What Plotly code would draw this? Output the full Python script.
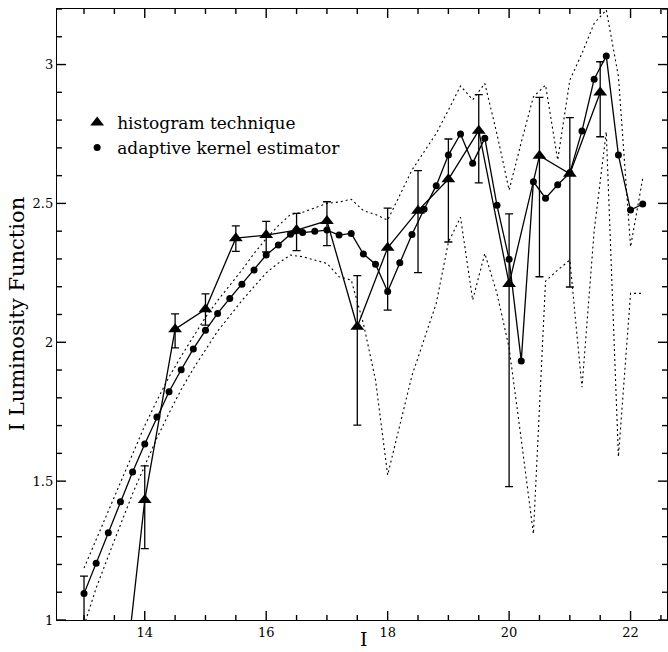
import plotly.graph_objects as go

# ---- data ----
# adaptive kernel estimator (circles)
kernel_x = [13.0, 13.2, 13.4, 13.6, 13.8, 14.0, 14.2, 14.4, 14.6, 14.8,
            15.0, 15.2, 15.4, 15.6, 15.8, 16.0, 16.2, 16.4, 16.6, 16.8,
            17.0, 17.2, 17.4, 17.6, 17.8, 18.0, 18.2, 18.4, 18.6, 18.8,
            19.0, 19.2, 19.4, 19.6, 19.8, 20.0, 20.2, 20.4, 20.6, 20.8,
            21.0, 21.2, 21.4, 21.6, 21.8, 22.0, 22.2]
kernel_y = [1.095, 1.204, 1.314, 1.426, 1.533, 1.634, 1.731, 1.822, 1.901, 1.976,
            2.043, 2.104, 2.158, 2.209, 2.260, 2.314, 2.350, 2.389, 2.395, 2.400,
            2.404, 2.386, 2.392, 2.318, 2.281, 2.183, 2.286, 2.388, 2.479, 2.564,
            2.674, 2.750, 2.645, 2.735, 2.493, 2.299, 1.933, 2.578, 2.519, 2.567,
            2.610, 2.761, 2.947, 3.031, 2.674, 2.476, 2.498]
# dotted confidence band (upper / lower)
band_upper = [1.187, 1.29, 1.395, 1.50, 1.60, 1.70, 1.79, 1.875, 1.95, 2.02,
              2.09, 2.15, 2.205, 2.26, 2.32, 2.373, 2.42, 2.46, 2.468, 2.485,
              2.50, 2.505, 2.515, 2.474, 2.46, 2.44, 2.53, 2.62, 2.686, 2.752,
              2.836, 2.923, 2.873, 2.932, 2.75, 2.548, 2.72, 2.884, 2.926, 2.656,
              2.944, 3.04, 3.148, 3.197, 2.957, 2.344, 2.59]
band_lower = [0.98, 1.115, 1.23, 1.345, 1.455, 1.555, 1.655, 1.745, 1.83, 1.905,
              1.972, 2.04, 2.095, 2.15, 2.20, 2.25, 2.285, 2.314, 2.308, 2.295,
              2.284, 2.236, 2.224, 2.068, 1.864, 1.522, 1.70, 1.88, 2.01, 2.14,
              2.36, 2.45, 2.152, 2.32, 2.176, 1.98, 1.65, 1.31, 2.22, 2.26,
              2.296, 1.838, 2.40, 2.758, 1.588, 2.176, 2.176]

# histogram technique (triangles) with error bars
hist_x = [13.0, 13.5, 14.0, 14.5, 15.0, 15.5, 16.0, 16.5, 17.0, 17.5,
          18.0, 18.5, 19.0, 19.5, 20.0, 20.5, 21.0, 21.5]
hist_y = [0.86, 0.45, 1.432, 2.047, 2.119, 2.375, 2.386, 2.404, 2.437, 2.056,
          2.340, 2.474, 2.587, 2.762, 2.210, 2.672, 2.607, 2.899]
hist_hi = [1.158, 0.75, 1.555, 2.102, 2.174, 2.419, 2.435, 2.464, 2.506, 2.240,
           2.483, 2.618, 2.732, 2.892, 2.462, 2.882, 2.809, 3.010]
hist_lo = [0.40, 0.20, 1.257, 1.980, 2.062, 2.327, 2.325, 2.330, 2.348, 1.702,
           2.116, 2.251, 2.361, 2.574, 1.480, 2.236, 2.199, 2.740]

x_range = [12.555, 22.6]
y_range = [1.0, 3.2]
x_ticks = [14, 16, 18, 20, 22]
y_ticks = [1, 1.5, 2, 2.5, 3]
y_ticklabels = ["1", "1.5", "2", "2.5", "3"]
x_minor_step = 0.5
y_minor_step = 0.1

FONT = "DejaVu Serif"
INK = "#000000"

W, H = 668, 652
M = dict(l=57, r=1, t=9, b=32)
plot_w = W - M["l"] - M["r"]
plot_h = H - M["t"] - M["b"]
# data units per pixel (axes have fixed ranges)
ux = (x_range[1] - x_range[0]) / plot_w
uy = (y_range[1] - y_range[0]) / plot_h

fig = go.Figure()

for band in (band_upper, band_lower):
    fig.add_trace(go.Scatter(
        x=kernel_x, y=band, mode="lines",
        line=dict(color=INK, width=1.1, dash="2px,3px"),
        showlegend=False, hoverinfo="skip"))

fig.add_trace(go.Scatter(
    x=kernel_x, y=kernel_y, mode="lines+markers",
    line=dict(color=INK, width=1.3),
    marker=dict(symbol="circle", size=7, color=INK),
    showlegend=False))

fig.add_trace(go.Scatter(
    x=hist_x, y=hist_y, mode="lines+markers",
    line=dict(color=INK, width=1.3),
    marker=dict(symbol="triangle-up", size=12, color=INK),
    error_y=dict(type="data", symmetric=False,
                 array=[h - v for h, v in zip(hist_hi, hist_y)],
                 arrayminus=[v - l for v, l in zip(hist_y, hist_lo)],
                 color=INK, thickness=1.3, width=4),
    showlegend=False))

# legend entries (markers only)
fig.add_trace(go.Scatter(
    x=[None], y=[None], mode="markers", name="histogram technique",
    marker=dict(symbol="triangle-up", size=12, color=INK)))
fig.add_trace(go.Scatter(
    x=[None], y=[None], mode="markers", name="adaptive kernel estimator",
    marker=dict(symbol="circle", size=7, color=INK)))

# tick marks on all four sides (inside), major + minor, drawn as one line trace
def tick_positions(lo, hi, step):
    out = []
    k = int(lo // step)
    while k * step <= hi + 1e-9:
        v = round(k * step, 6)
        if lo - 1e-9 <= v <= hi + 1e-9:
            out.append(v)
        k += 1
    return out

major_len, minor_len = 9, 5
tx, ty = [], []
for v in tick_positions(x_range[0], x_range[1], x_minor_step):
    L = (major_len if any(abs(v - t) < 1e-6 for t in x_ticks) else minor_len) * uy
    tx += [v, v, None, v, v, None]
    ty += [y_range[0], y_range[0] + L, None, y_range[1], y_range[1] - L, None]
for v in tick_positions(y_range[0], y_range[1], y_minor_step):
    L = (major_len if any(abs(v - t) < 1e-6 for t in y_ticks) else minor_len) * ux
    tx += [x_range[0], x_range[0] + L, None, x_range[1], x_range[1] - L, None]
    ty += [v, v, None, v, v, None]
fig.add_trace(go.Scatter(x=tx, y=ty, mode="lines", line=dict(color=INK, width=1.4),
                         showlegend=False, hoverinfo="skip", cliponaxis=False))

fig.update_layout(
    width=W, height=H,
    margin=M,
    plot_bgcolor="white", paper_bgcolor="white",
    font=dict(family=FONT, color=INK),
    legend=dict(x=0.033, y=0.843, xanchor="left", yanchor="top",
                bgcolor="rgba(0,0,0,0)", borderwidth=0,
                font=dict(family=FONT, size=17, color=INK),
                itemsizing="trace", tracegroupgap=0),
    annotations=[
        dict(text="I Luminosity Function", xref="paper", yref="paper",
             x=-0.066, y=0.5, xanchor="center", yanchor="middle",
             textangle=-90, showarrow=False,
             font=dict(family=FONT, size=21, color=INK)),
        dict(text="I", xref="paper", yref="paper",
             x=0.503, y=-0.0524, xanchor="center", yanchor="bottom",
             showarrow=False, font=dict(family=FONT, size=19, color=INK)),
    ],
)

fig.update_xaxes(
    range=x_range, tickvals=x_ticks,
    showline=True, linecolor=INK, linewidth=1.3, mirror=True,
    ticks="", showgrid=False, zeroline=False,
    tickfont=dict(family=FONT, size=13, color=INK),
)
fig.update_yaxes(
    range=y_range, tickvals=y_ticks, ticktext=y_ticklabels,
    showline=True, linecolor=INK, linewidth=1.3, mirror=True,
    ticks="", showgrid=False, zeroline=False,
    tickfont=dict(family=FONT, size=13, color=INK),
)

fig.write_html("out.html")
